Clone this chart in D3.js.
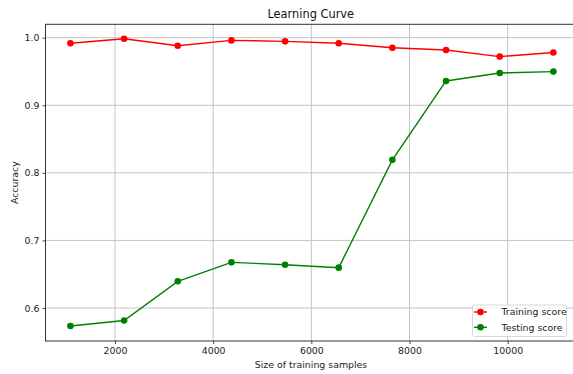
<!DOCTYPE html>
<html>
<head>
<meta charset="utf-8">
<script src="https://cdn.jsdelivr.net/npm/d3@7"></script>
<style>
  html, body { margin: 0; padding: 0; background: #fff; }
  svg { display: block; font-family: "DejaVu Sans", sans-serif; }
</style>
</head>
<body>
<div id="chart"></div>
<script>
// data
const trainSizes = [1093, 2186, 3279, 4372, 5465, 6558, 7651, 8744, 9837, 10930];
const trainScore = [0.9917, 0.9985, 0.988, 0.996, 0.9946, 0.9917, 0.985, 0.9818, 0.972, 0.978];
const testScore = [0.5734, 0.5816, 0.6395, 0.6676, 0.6641, 0.6597, 0.8192, 0.936, 0.9478, 0.9498];
const xTicks = [2000, 4000, 6000, 8000, 10000];
const yTicks = [0.6, 0.7, 0.8, 0.9, 1.0];

const width = 573;
const height = 374;
// the right side of the frame is cut off by the picture edge
const plot = { left: 45.5, right: 570, frameRight: 576, top: 24.3, bottom: 341 };
const fontSize = 9.4;

const svg = d3.select("#chart")
  .append("svg")
  .attr("width", width)
  .attr("height", height);

// scales
const scaleX = d3.scaleLinear()
  .domain([585, 11269])
  .range([plot.left, plot.right]);

const scaleY = d3.scaleLinear()
  .domain([0.5512, 1.0198])
  .range([plot.bottom, plot.top]);

//---------------------------------------------------------------------------------------

// grid lines
svg.append("g")
  .selectAll("line")
  .data(xTicks)
  .join("line")
  .attr("x1", d => scaleX(d))
  .attr("x2", d => scaleX(d))
  .attr("y1", plot.top)
  .attr("y2", plot.bottom)
  .attr("stroke", "#c4c4c4")
  .attr("stroke-width", 1);

svg.append("g")
  .selectAll("line")
  .data(yTicks)
  .join("line")
  .attr("x1", plot.left)
  .attr("x2", plot.frameRight)
  .attr("y1", d => scaleY(d))
  .attr("y2", d => scaleY(d))
  .attr("stroke", "#c4c4c4")
  .attr("stroke-width", 1);

// axes
const xAxis = svg.append("g")
  .attr("transform", `translate(0, ${plot.bottom})`)
  .call(d3.axisBottom(scaleX).tickValues(xTicks).tickFormat(d3.format("d")).tickSize(3).tickPadding(3))
  .call(g => g.select(".domain").remove());

const yAxis = svg.append("g")
  .attr("transform", `translate(${plot.left}, 0)`)
  .call(d3.axisLeft(scaleY).tickValues(yTicks).tickFormat(d3.format(".1f")).tickSize(3).tickPadding(3))
  .call(g => g.select(".domain").remove());

[xAxis, yAxis].forEach(g => {
  g.selectAll(".tick line").attr("stroke", "#444");
  g.selectAll("text")
    .attr("fill", "#222")
    .style("font-family", "DejaVu Sans")
    .style("font-size", `${fontSize}px`);
});

// frame around the plot
svg.append("rect")
  .attr("x", plot.left)
  .attr("y", plot.top)
  .attr("width", plot.frameRight - plot.left)
  .attr("height", plot.bottom - plot.top)
  .attr("fill", "none")
  .attr("stroke", "#333")
  .attr("stroke-width", 1);

//---------------------------------------------------------------------------------------

// lines and markers
const series = [
  { label: "Training score", values: trainScore, col: "#ff0000" },
  { label: "Testing score", values: testScore, col: "#008000" },
];

const lineGenerator = d3.line()
  .x(d => scaleX(d[0]))
  .y(d => scaleY(d[1]));

series.forEach(s => {
  const pts = trainSizes.map((x, i) => [x, s.values[i]]);
  svg.append("path")
    .attr("d", lineGenerator(pts))
    .attr("fill", "none")
    .attr("stroke", s.col)
    .attr("stroke-width", 1.4);
  svg.append("g")
    .selectAll("circle")
    .data(pts)
    .join("circle")
    .attr("cx", d => scaleX(d[0]))
    .attr("cy", d => scaleY(d[1]))
    .attr("r", 3.3)
    .attr("fill", s.col);
});

//---------------------------------------------------------------------------------------

// titles
svg.append("text")
  .attr("x", (plot.left + plot.frameRight) / 2)
  .attr("y", 17.5)
  .attr("text-anchor", "middle")
  .attr("fill", "#111")
  .style("font-size", "11.4px")
  .text("Learning Curve");

svg.append("text")
  .attr("x", 311)
  .attr("y", 368)
  .attr("text-anchor", "middle")
  .attr("fill", "#222")
  .style("font-size", `${fontSize}px`)
  .text("Size of training samples");

svg.append("text")
  .attr("transform", `translate(18, ${(plot.top + plot.bottom) / 2}) rotate(-90)`)
  .attr("text-anchor", "middle")
  .attr("fill", "#222")
  .style("font-size", `${fontSize}px`)
  .text("Accuracy");

//---------------------------------------------------------------------------------------

// legend, lower right
const legendBox = { x: 472.5, y: 305, w: 94, h: 31.5 };

svg.append("rect")
  .attr("x", legendBox.x)
  .attr("y", legendBox.y)
  .attr("width", legendBox.w)
  .attr("height", legendBox.h)
  .attr("rx", 2)
  .attr("fill", "#ffffff")
  .attr("fill-opacity", 0.8)
  .attr("stroke", "#d8d8d8");

const legend = svg.selectAll(".legend")
  .data(series)
  .join("g")
  .attr("class", "legend")
  .attr("transform", (d, i) => `translate(${legendBox.x}, ${legendBox.y + 7 + i * 15.3})`);

legend.append("line")
  .attr("x1", 1.5)
  .attr("x2", 14.5)
  .attr("stroke", d => d.col)
  .attr("stroke-width", 1.4);

legend.append("circle")
  .attr("cx", 8)
  .attr("r", 3.3)
  .attr("fill", d => d.col);

legend.append("text")
  .attr("x", 29)
  .attr("y", 3.4)
  .attr("fill", "#222")
  .style("font-size", `${fontSize}px`)
  .text(d => d.label);
</script>
</body>
</html>
